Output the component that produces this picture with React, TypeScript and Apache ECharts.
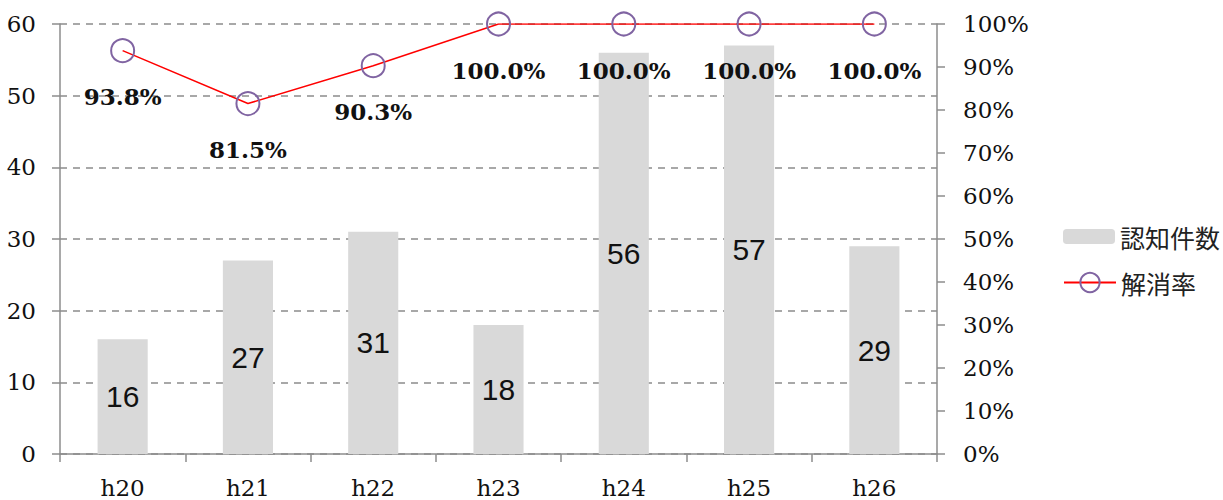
import React, { useEffect, useRef } from "react";
import * as echarts from "echarts";

const categories = ["h20", "h21", "h22", "h23", "h24", "h25", "h26"];
const counts = [16, 27, 31, 18, 56, 57, 29];
const rates = [0.938, 0.815, 0.903, 1.0, 1.0, 1.0, 1.0];
const leftTicks = { min: 0, max: 60, interval: 10 };
const rightTicks = { min: 0, max: 1, interval: 0.1 };

const serif = "'DejaVu Serif', 'Liberation Serif', serif";
const sans = "'Liberation Sans', Arial, sans-serif";
const cjk = "'Noto Sans CJK JP', sans-serif";
const axisGray = "#8c8c8c";

export default function App() {
  const ref = useRef<HTMLDivElement>(null);
  useEffect(() => {
    document.body.style.margin = "0";
    if (!ref.current) return;
    const chart = echarts.init(ref.current, null, { renderer: "svg" });
    chart.setOption({
      animation: false,
      backgroundColor: "#ffffff",
      grid: { left: 60, right: 286, top: 24, bottom: 46 },
      legend: [
        {
          orient: "vertical",
          left: 1058,
          top: 219,
          itemWidth: 52,
          itemHeight: 15,
          itemGap: 5,
          textStyle: { fontFamily: cjk, fontSize: 25, color: "#222" },
          data: ["認知件数"],
        },
        {
          orient: "vertical",
          left: 1058,
          top: 265,
          itemWidth: 52,
          itemHeight: 24,
          itemGap: 5,
          textStyle: { fontFamily: cjk, fontSize: 25, color: "#222" },
          data: ["解消率"],
        },
      ],
      xAxis: {
        type: "category",
        data: categories,
        boundaryGap: true,
        axisLine: { lineStyle: { color: axisGray, width: 1.5 } },
        axisTick: { show: true, length: 8, lineStyle: { color: axisGray, width: 1.5 } },
        axisLabel: { fontFamily: serif, fontSize: 23, color: "#111", margin: 22 },
      },
      yAxis: [
        {
          type: "value",
          min: leftTicks.min,
          max: leftTicks.max,
          interval: leftTicks.interval,
          axisLine: { show: true, lineStyle: { color: axisGray, width: 1.5 } },
          axisTick: { show: true, length: 8, lineStyle: { color: axisGray, width: 1.5 } },
          axisLabel: { fontFamily: serif, fontSize: 23, color: "#111", margin: 24 },
          splitLine: { show: true, lineStyle: { color: "#8c8c8c", type: [7, 6], width: 1.5 } },
        },
        {
          type: "value",
          min: rightTicks.min,
          max: rightTicks.max,
          interval: rightTicks.interval,
          position: "right",
          axisLine: { show: true, lineStyle: { color: axisGray, width: 1.5 } },
          axisTick: { show: true, length: 8, lineStyle: { color: axisGray, width: 1.5 } },
          axisLabel: {
            fontFamily: serif,
            fontSize: 23,
            color: "#111",
            margin: 26,
            formatter: (v: number) => Math.round(v * 100) + "%",
          },
          splitLine: { show: false },
        },
      ],
      series: [
        {
          name: "認知件数",
          type: "bar",
          data: counts,
          barWidth: "40%",
          itemStyle: { color: "#d9d9d9" },
          label: {
            show: true,
            position: "inside",
            fontFamily: sans,
            fontSize: 30,
            color: "#111",
          },
        },
        {
          name: "解消率",
          type: "line",
          yAxisIndex: 1,
          data: rates,
          symbol: "circle",
          symbolSize: 23,
          lineStyle: { color: "#ff0000", width: 1.5 },
          itemStyle: { color: "rgba(255,255,255,0)", borderColor: "#8064a2", borderWidth: 2 },
          label: {
            show: true,
            position: "bottom",
            distance: 22,
            fontFamily: serif,
            fontWeight: "bold",
            fontSize: 23,
            color: "#111",
            formatter: (p: any) => (p.value * 100).toFixed(1) + "%",
          },
          z: 5,
        },
      ],
    });
    return () => chart.dispose();
  }, []);
  return <div ref={ref} style={{ width: 1223, height: 500 }} />;
}
